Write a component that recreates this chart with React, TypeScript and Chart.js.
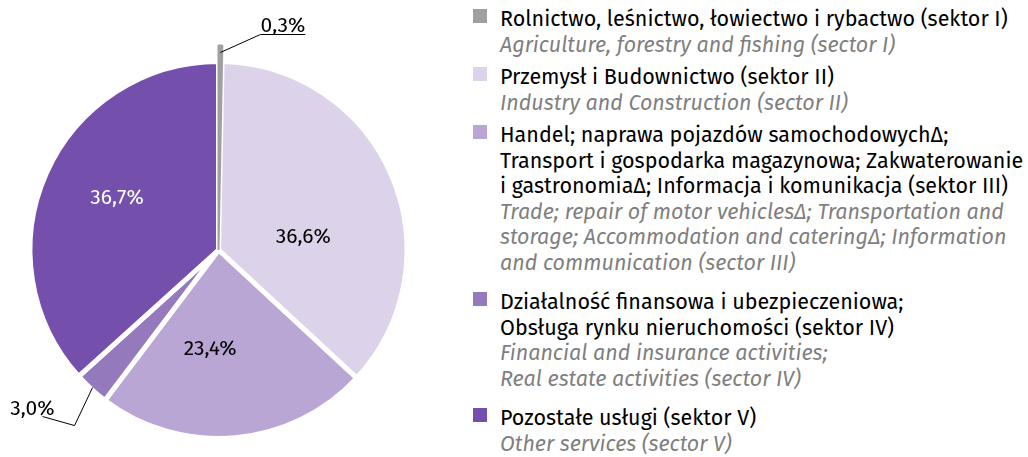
import React, { useEffect, useRef } from "react";
import { Chart, registerables } from "chart.js";

Chart.register(...registerables);

// ---------- data ----------
const sectorsPL: string[][] = [
  ["Rolnictwo, leśnictwo, łowiectwo i rybactwo (sektor I)"],
  ["Przemysł i Budownictwo (sektor II)"],
  [
    "Handel; naprawa pojazdów samochodowychΔ;",
    "Transport i gospodarka magazynowa; Zakwaterowanie",
    "i gastronomiaΔ; Informacja i komunikacja (sektor III)",
  ],
  ["Działalność finansowa i ubezpieczeniowa;", "Obsługa rynku nieruchomości (sektor IV)"],
  ["Pozostałe usługi (sektor V)"],
];
const sectorsEN: string[][] = [
  ["Agriculture, forestry and fishing (sector I)"],
  ["Industry and Construction (sector II)"],
  [
    "Trade; repair of motor vehiclesΔ; Transportation and",
    "storage; Accommodation and cateringΔ; Information",
    "and communication (sector III)",
  ],
  ["Financial and insurance activities;", "Real estate activities (sector IV)"],
  ["Other services (sector V)"],
];
const shares: number[] = [0.3, 36.6, 23.4, 3.0, 36.7];

// ---------- styles ----------
const COLORS = ["#a0a0a0", "#dcd3ea", "#b9a6d4", "#9479bd", "#744fab"];
const LABEL_COLORS = ["#000", "#000", "#000", "#000", "#fff"];
const FONT = "'Fira Sans', 'Open Sans', sans-serif";
const FONT_SIZE = 21.5;
const PIE_FONT_SIZE = 21;
const LINE_H = 25.6;
const GROUP_GAPS = [6.8, 6.8, 13.4, 13.6];
// inside-label placement: rotate from slice bisector (deg), fraction of radius
const INSIDE: Record<number, { turn: number; at: number }> = {
  1: { turn: 13.6, at: 0.456 },
  2: { turn: 10, at: 0.517 },
  4: { turn: 3.7, at: 0.607 },
};
const GREY_EXTRA = 16;

const fmt = (v: number) => v.toFixed(1).replace(".", ",") + "%";

const labelPlugin = {
  id: "sliceLabels",
  afterDatasetsDraw(chart: any) {
    const ctx: CanvasRenderingContext2D = chart.ctx;
    const arcs: any[] = chart.getDatasetMeta(0).data;
    // tiny first slice drawn on top, reaching past the rim
    const g = arcs[0];
    const r0 = g.outerRadius;
    g.outerRadius = r0 + GREY_EXTRA;
    g.draw(ctx);
    g.outerRadius = r0;

    const polar = (a: any, ang: number, r: number) => ({
      x: a.x + Math.cos(ang) * r,
      y: a.y + Math.sin(ang) * r,
    });
    const mid = (a: any) => (a.startAngle + a.endAngle) / 2;

    ctx.save();
    ctx.font = `${PIE_FONT_SIZE}px ${FONT}`;
    ctx.textBaseline = "alphabetic";
    ctx.lineWidth = 1;
    ctx.strokeStyle = "#000";

    arcs.forEach((a, i) => {
      const txt = fmt(shares[i]);
      const place = INSIDE[i];
      if (place) {
        const p = polar(a, mid(a) + (place.turn * Math.PI) / 180, a.outerRadius * place.at);
        ctx.fillStyle = LABEL_COLORS[i];
        ctx.textAlign = "center";
        ctx.fillText(txt, p.x, p.y + 7.5);
      }
    });

    // outside label for slice 0
    {
      const a = arcs[0];
      const p0 = polar(a, mid(a), a.outerRadius + GREY_EXTRA - 7);
      const p1 = { x: p0.x + 40, y: p0.y - 18 };
      const p2 = { x: p1.x + 45, y: p1.y };
      ctx.beginPath();
      ctx.moveTo(p0.x, p0.y);
      ctx.lineTo(p1.x, p1.y);
      ctx.lineTo(p2.x, p2.y);
      ctx.stroke();
      ctx.fillStyle = "#000";
      ctx.textAlign = "center";
      ctx.fillText(fmt(shares[0]), (p1.x + p2.x) / 2, p1.y - 3);
    }
    // outside label for slice 3
    {
      const a = arcs[3];
      const p0 = polar(a, mid(a), a.outerRadius - 2);
      const p1 = { x: p0.x - 18, y: p0.y + 38 };
      const p2 = { x: p1.x - 32, y: p1.y - 9 };
      ctx.beginPath();
      ctx.moveTo(p0.x, p0.y);
      ctx.lineTo(p1.x, p1.y);
      ctx.lineTo(p2.x, p2.y);
      ctx.stroke();
      ctx.fillStyle = "#000";
      ctx.textAlign = "right";
      ctx.fillText(fmt(shares[3]), p2.x + 12, p2.y - 2);
    }
    ctx.restore();
  },
};

function legendTops(): number[] {
  const tops: number[] = [];
  let y = 7;
  sectorsPL.forEach((pl, i) => {
    tops.push(y);
    y += (pl.length + sectorsEN[i].length) * LINE_H + (GROUP_GAPS[i] || 0);
  });
  return tops;
}

export default function App() {
  const ref = useRef<HTMLCanvasElement>(null);
  useEffect(() => {
    if (!ref.current) return;
    const chart = new Chart(ref.current, {
      type: "pie",
      data: {
        labels: sectorsPL.map((l) => l.join(" ")),
        datasets: [
          {
            data: shares,
            backgroundColor: COLORS,
            borderColor: ["#a0a0a0", "#fff", "#fff", "#fff", "#fff"],
            borderWidth: [2, 5, 5, 5, 5],
          },
        ],
      },
      options: {
        responsive: false,
        animation: false,
        events: [],
        radius: 188.5,
        layout: { padding: { top: 43 } },
        plugins: { legend: { display: false }, tooltip: { enabled: false } },
      } as any,
      plugins: [labelPlugin],
    });
    return () => chart.destroy();
  }, []);

  const tops = legendTops();
  return (
    <div style={{ position: "absolute", left: 0, top: 0, width: 1028, height: 457, fontFamily: FONT, background: "#fff" }}>
      <canvas ref={ref} width={437} height={457} style={{ position: "absolute", left: 0, top: 0, width: 437, height: 457 }} />
      {sectorsPL.map((pl, i) => (
        <div key={i} style={{ position: "absolute", left: 473, top: tops[i] }}>
          <div style={{ position: "absolute", left: 0, top: 1.5, width: 14, height: 14, background: COLORS[i] }} />
          <div style={{ position: "absolute", left: 27, top: 0, whiteSpace: "nowrap", fontSize: FONT_SIZE, lineHeight: `${LINE_H}px`, color: "#000" }}>
            {pl.map((t, k) => (
              <div key={"p" + k}>{t}</div>
            ))}
            {sectorsEN[i].map((t, k) => (
              <div key={"e" + k} style={{ fontStyle: "italic", color: "#7f7f7f" }}>
                {t}
              </div>
            ))}
          </div>
        </div>
      ))}
    </div>
  );
}
